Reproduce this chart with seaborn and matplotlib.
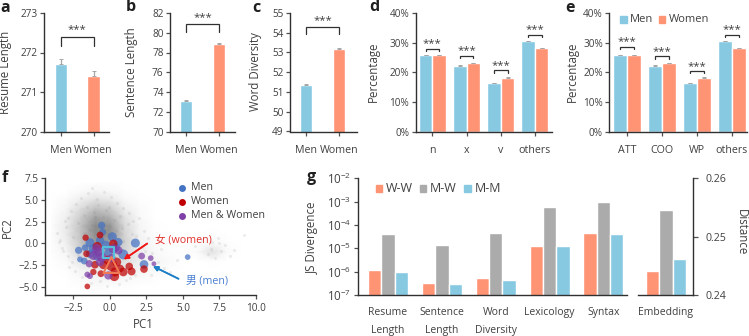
import numpy as np
import pandas as pd
import seaborn as sns
import matplotlib.pyplot as plt
from matplotlib.patches import Rectangle
from matplotlib.lines import Line2D

W, H = 749, 336
BLUE = '#88c9e2'
ORANGE = '#ff9474'
GRAY = '#ababab'
TXT = '#404040'

groups_ab = ['Men', 'Women']
resume_len = [271.7, 271.4]
resume_err = [0.13, 0.14]
sent_len = [73.05, 78.9]
sent_err = [0.1, 0.05]
word_div = [51.37, 53.2]
word_err = [0.06, 0.03]

pos_tags = ['n', 'x', 'v', 'others']
pos_men = [25.8, 22.2, 16.3, 30.4]
pos_women = [25.8, 23.0, 18.2, 28.1]
dep_tags = ['ATT', 'COO', 'WP', 'others']
dep_men = [25.8, 22.2, 16.3, 30.4]
dep_women = [25.8, 23.0, 18.2, 28.1]
pct_err = [0.1, 0.1, 0.1, 0.1]

js_feats = ['Resume\nLength', 'Sentence\nLength', 'Word\nDiversity', 'Lexicology', 'Syntax']
js_ww = [1.18e-6, 3.2e-7, 5.2e-7, 1.2e-5, 4.7e-5]
js_mw = [4.0e-5, 1.35e-5, 4.4e-5, 6.1e-4, 9.4e-4]
js_mm = [1.0e-6, 3.1e-7, 4.4e-7, 1.2e-5, 4.0e-5]
emb_vals = [0.2441, 0.2546, 0.2462]
pair_names = ['W-W', 'M-W', 'M-M']

# background cloud, darkness on a 1x1 grid
cloud_x = [-4, -3, -2, -1, 0, 1, 2, 3, 4, 5, 6, 7, 8, 9, 10]
cloud_y = [7, 6, 5, 4, 3, 2, 1, 0, -1, -2, -3, -4, -5, -6]
cloud = [
    [0, 0, 0, .01, .01, 0, 0, 0, 0, 0, 0, 0, 0, 0, 0],
    [0, 0, .02, .04, .03, .01, 0, 0, 0, 0, 0, 0, 0, 0, 0],
    [0, .02, .07, .12, .09, .03, .01, 0, 0, 0, 0, 0, 0, 0, 0],
    [0, .04, .14, .24, .20, .07, .02, 0, 0, 0, 0, 0, 0, 0, 0],
    [.01, .06, .20, .36, .31, .12, .03, 0, 0, 0, 0, 0, 0, 0, 0],
    [.01, .08, .24, .45, .42, .15, .04, .01, 0, 0, 0, 0, 0, 0, 0],
    [.01, .08, .24, .45, .44, .17, .05, .01, 0, 0, 0, .01, 0, 0, 0],
    [.01, .06, .22, .38, .35, .19, .06, .02, .01, 0, .01, .03, .01, 0, 0],
    [.01, .04, .17, .28, .27, .16, .07, .03, .01, .01, .02, .12, .02, 0, 0],
    [0, .02, .10, .17, .17, .13, .07, .04, .02, 0, 0, .01, 0, 0, 0],
    [0, .01, .05, .08, .10, .08, .05, .03, .01, 0, 0, 0, 0, 0, 0],
    [0, 0, .02, .04, .05, .03, .02, .01, 0, 0, 0, 0, 0, 0, 0],
    [0, 0, .01, .02, .01, .01, 0, 0, 0, 0, 0, 0, 0, 0, 0],
    [0, 0, 0, 0, 0, 0, 0, 0, 0, 0, 0, 0, 0, 0, 0],
]
# the single faint dots that can be made out around and inside the cloud
stray_x = [-3.6, -3.3, -3.1, -2.9, -2.7, -3.4, -3.0, -2.6, -2.3, -2.0, -1.8, -1.5, -1.2, -0.9, -0.4, 0.1, 0.5, 0.9,
           1.3, 1.6, 2.0, 2.3, 2.6, 1.8, 1.1, 0.6, -0.2, -0.7, -1.3, -1.9, -2.4, -2.8, -3.2, -3.5, -2.2, -1.6, -1.0,
           -0.3, 0.3, 0.8, 1.5, 2.2, 2.9, 3.3, 3.7, 4.1, 3.5, 2.8, 4.6, 5.8, 6.3, 6.7, 7.0, 7.2, 7.4, 7.6, 7.9, 8.2,
           6.9, 7.5, 8.5, 9.2, -1.2, -0.5, 0.2, -1.8, -0.8, 0.7, 1.2, -2.5, -1.4, 0.0, 1.9, 2.4, -0.1, -2.9, -0.6,
           0.9, -1.1, 0.4, -1.7, -2.2, 1.4, 1.7, 2.1]
stray_y = [1.2, -0.5, 2.6, -1.4, 3.7, 0.4, 1.9, -2.1, 4.6, 5.2, 3.3, 5.8, 6.4, 5.1, 5.9, 5.3, 4.7, 4.1, 3.5, 2.6, 2.9,
           1.4, 0.6, 0.9, -4.2, -4.7, -4.9, -4.4, -4.6, -3.9, -3.2, -2.7, -0.9, 0.2, 2.3, 4.2, 3.0, 3.9, 2.7, 1.8, 1.1,
           -0.4, -1.1, -2.2, -2.9, -3.3, -0.7, -3.6, -1.9, -0.3, 0.4, -1.2, 0.2, -1.7, 0.6, -0.9, -0.2, -1.5, -0.6, 0.1,
           -0.8, 1.0, 2.1, 3.1, 0.9, 1.2, 4.4, 3.2, 2.2, 0.7, 1.5, 2.0, -1.5, -0.9, 4.2, 2.9, 1.1, 0.3, 3.6, 1.4, -0.3,
           -1.3, -4.0, -3.7, -2.4]

men_x = [-0.57, -0.5, 0.16, 1.74, -2.15, -1.7, -1.37, -1.14, -2.05, -1.76, 0.91, 0.57, 2.33, 5.32, -0.11, -1.37, -0.68, 0.4, -0.9, -0.3]
men_y = [2.08, 1.3, 0.77, 0.04, -0.8, -0.5, 0.08, -0.6, -1.85, -2.04, -1.27, 0.15, -2.43, -1.58, -1.08, -1.2, 0.35, -0.5, -1.5, -0.2]
men_n = [45, 40, 70, 70, 45, 40, 70, 70, 30, 40, 85, 60, 65, 28, 60, 60, 60, 60, 60, 70]
women_x = [-1.67, -0.68, -1.6, -0.87, -1.03, -1.14, -0.62, 0.3, 0.91, 1.48, 1.32, 2.33, -1.55, 0.11, 0.34, 0.46, -0.45, 0.23, -0.2, 0.7]
women_y = [0.66, 0.96, -1.2, -0.35, -2.47, -3.3, -3.5, -3.8, -3.3, -3.24, -2.66, -2.97, -4.97, -2.54, -3.3, -2.16, -2.5, -0.04, -1.9, -2.9]
women_n = [35, 40, 40, 70, 50, 35, 40, 80, 65, 55, 50, 50, 28, 110, 70, 70, 60, 60, 60, 50]
both_x = [-0.91, -0.57, -1.42, -1.37, -1.55, -0.11, 2.17, 2.79, 3.01, 0.23, -0.68, 0.57, -1.14, -0.8, 0.1]
both_y = [-0.62, -1.6, -2.35, -3.78, -3.6, -3.7, -1.46, -1.7, -2.35, -0.62, -2.16, -0.8, -1.4, -1.0, -1.7]
both_n = [80, 80, 45, 30, 30, 60, 40, 28, 20, 70, 60, 60, 70, 70, 60]


def px_ax(x0, y0, x1, y1):
    return fig.add_axes([x0 / W, 1 - y1 / H, (x1 - x0) / W, (y1 - y0) / H])


def fx(x):
    return x / W


def fy(y):
    return 1 - y / H


def style_ax(ax, lw=1.0, tick=2.6):
    sns.despine(ax=ax)
    for s in ax.spines.values():
        s.set_linewidth(lw)
        s.set_color('#303030')
    ax.tick_params(length=tick, width=0.9, color='#505050', labelcolor=TXT, labelsize=FS, pad=2)
    ax.tick_params(axis='y', labelsize=FS_Y)
    ax.set_xlabel('')
    ax.set_ylabel('')


def bracket(ax, x0, x1, top, side, star):
    ax.plot([x0, x0, x1, x1], [side, top, top, side], color='#303030', lw=0.9, clip_on=False, solid_joinstyle='miter')
    ax.annotate('***', ((x0 + x1) / 2, star), ha='center', va='center', fontsize=FS + 0.5, color=TXT, annotation_clip=False)


def errs(ax, errors):
    # error caps go on top of the bars that seaborn drew
    for c, vals in zip(ax.containers, errors):
        for b, e in zip(c, vals):
            cx = b.get_x() + b.get_width() / 2
            ax.errorbar(cx, b.get_height(), yerr=[[0], [e]], color='#a6a6a6', lw=0.9, capsize=1.5, capthick=0.7, zorder=3)


def two_bars(box, vals, err, ylim, ticks, xlim, lab, lab_x, br):
    ax = px_ax(*box)
    sns.barplot(x=groups_ab, y=vals, hue=groups_ab, palette=[BLUE, ORANGE], saturation=1, width=0.38, legend=False, ax=ax)
    ax.set_ylim(*ylim)
    ax.set_xlim(*xlim)
    ax.set_yticks(ticks)
    style_ax(ax)
    ax.tick_params(axis='x', pad=7)
    errs(ax, [[e] for e in err])
    fig.text(fx(lab_x), fy(72), lab, rotation=90, ha='center', va='center', fontsize=FS_L, color=TXT)
    bracket(ax, 0, 1, *br)
    return ax


def group_bars(box, cats, men, women, xlim, lab_x, br):
    ax = px_ax(*box)
    df = pd.DataFrame({'cat': cats * 2, 'v': men + women, 'who': ['Men'] * 4 + ['Women'] * 4})
    sns.barplot(data=df, x='cat', y='v', hue='who', palette=[BLUE, ORANGE], saturation=1, width=0.79, gap=0, legend=False, ax=ax)
    ax.set_ylim(0, 40)
    ax.set_xlim(*xlim)
    ax.set_yticks([0, 10, 20, 30, 40], ['0%', '10%', '20%', '30%', '40%'])
    style_ax(ax)
    ax.tick_params(axis='x', pad=7)
    errs(ax, [pct_err, pct_err])
    fig.text(fx(lab_x), fy(72), 'Percentage', rotation=90, ha='center', va='center', fontsize=FS_L, color=TXT)
    for i, t in enumerate(br):
        bracket(ax, i - 0.2, i + 0.2, t, t - 0.8, t + 1.6)
    return ax


def swatch(x, y, color, label, size=6.5, fs=8.0):
    fig.patches.append(Rectangle((fx(x), fy(y + size / 2)), size / W, size / H, transform=fig.transFigure, color=color))
    fig.text(fx(x + size + 3.5), fy(y), label, ha='left', va='center', fontsize=fs, color=TXT)


FS = 7.7
FS_Y = 7.2
FS_L = 8.3
sns.set_style('ticks')
plt.rcParams['font.family'] = ['Open Sans', 'Noto Sans CJK SC', 'DejaVu Sans']
plt.rcParams['axes.unicode_minus'] = True
plt.rcParams['mathtext.default'] = 'regular'
fig = plt.figure(figsize=(W / 100, H / 100), dpi=100)

two_bars((44, 13, 109, 131.5), resume_len, resume_err, (270, 273), [270, 271, 272, 273], (-0.52, 1.47),
         'Resume Length', 6, (272.38, 272.17, 272.58))
two_bars((170, 13, 235, 131.5), sent_len, sent_err, (70, 82), range(70, 83, 2), (-0.485, 1.48),
         'Sentence Length', 132, (80.9, 80.05, 81.55))
two_bars((290, 13, 357, 131.5), word_div, word_err, (49, 55), range(49, 56), (-0.49, 1.55),
         'Word Diversity', 256, (54.27, 53.92, 54.6))

group_bars((415.7, 13, 551.7, 131.5), pos_tags, pos_men, pos_women, (-0.487, 3.49), 373,
           [28.0, 25.65, 20.7, 32.7])
group_bars((609.3, 13, 746.7, 131.5), dep_tags, dep_men, dep_women, (-0.505, 3.42), 572,
           [28.6, 25.4, 20.4, 32.7])
swatch(620, 19.3, BLUE, 'Men')
swatch(658.5, 19.3, ORANGE, 'Women')

# panel f
axf = px_ax(45, 178, 256, 295)
axf.pcolormesh(cloud_x, cloud_y, np.array(cloud), cmap='gray_r', vmin=0, vmax=1, shading='gouraud', rasterized=True)
sns.scatterplot(x=stray_x, y=stray_y, color='#808080', s=5, alpha=0.13, linewidth=0, legend=False, ax=axf, zorder=2)
for xs, ys, ns, col in [(men_x, men_y, men_n, '#4472c4'), (women_x, women_y, women_n, '#c00000'), (both_x, both_y, both_n, '#7e3fa8')]:
    sns.scatterplot(x=xs, y=ys, size=ns, sizes=(min(ns) * 0.6, max(ns) * 0.6), color=col, alpha=0.72, linewidth=0, legend=False, ax=axf, zorder=3)
axf.scatter([-0.1], [-1.05], marker='s', s=70, facecolor='none', edgecolor='#55c0dc', linewidth=1.5, zorder=5)
axf.scatter([0.1], [-2.5], marker='^', s=130, facecolor='none', edgecolor='#f07a55', linewidth=1.5, zorder=5)
axf.set_xlim(-4.45, 10)
axf.set_ylim(-5.96, 7.55)
axf.set_xticks([-2.5, 0, 2.5, 5, 7.5, 10])
axf.set_xticklabels(['\u22122.5', '0.0', '2.5', '5.0', '7.5', '10.0'])
axf.set_yticks([-5, -2.5, 0, 2.5, 5, 7.5])
axf.set_yticklabels(['\u22125.0', '\u22122.5', '0.0', '2.5', '5.0', '7.5'])
style_ax(axf)
axf.tick_params(axis='x', labelsize=FS_Y, pad=3)
fig.text(fx(143), fy(325), 'PC1', ha='center', va='center', fontsize=FS_L, color=TXT)
fig.text(fx(7), fy(228), 'PC2', rotation=90, ha='center', va='center', fontsize=FS_L, color=TXT)
for yy, col, lab in [(188, '#4472c4', 'Men'), (201.7, '#c00000', 'Women'), (215.7, '#7e3fa8', 'Men & Women')]:
    fig.add_artist(Line2D([fx(182)], [fy(yy)], marker='o', ms=5, color=col, mew=0, ls=''))
    fig.text(fx(190.7), fy(yy), lab, ha='left', va='center', fontsize=FS, color=TXT)
fig.text(fx(155), fy(241), '\u5973 (women)', ha='left', va='center', fontsize=FS, color='#e0302a')
fig.text(fx(186.5), fy(281), '\u7537 (men)', ha='left', va='center', fontsize=FS, color='#4a7fd0')
fig.add_artist(plt.annotate('', xy=(fx(121.5), fy(261)), xytext=(fx(149.5), fy(242)), xycoords='figure fraction',
                            arrowprops=dict(arrowstyle='-|>', color='#f01818', lw=1.2, mutation_scale=7)))
fig.add_artist(plt.annotate('', xy=(fx(150.5), fy(265)), xytext=(fx(181), fy(280)), xycoords='figure fraction',
                            arrowprops=dict(arrowstyle='-|>', color='#1f80c8', lw=1.2, mutation_scale=7)))

# panel g
pal = [ORANGE, GRAY, BLUE]
axg = px_ax(357.7, 178.3, 626.7, 295)
df_js = pd.DataFrame({'feat': js_feats * 3, 'v': js_ww + js_mw + js_mm, 'pair': np.repeat(pair_names, 5)})
sns.barplot(data=df_js, x='feat', y='v', hue='pair', palette=pal, saturation=1, width=0.743, gap=0, legend=False, ax=axg)
axg.set_yscale('log')
axg.set_ylim(1e-7, 1e-2)
axg.set_xlim(-0.563, 4.433)
axg.set_yticks([1e-7, 1e-6, 1e-5, 1e-4, 1e-3, 1e-2])
axg.minorticks_off()
style_ax(axg)
axg.tick_params(axis='y', labelsize=FS + 0.6)
axg.tick_params(axis='x', length=0, pad=8.5, labelsize=7.5)
for t in axg.get_xticklabels():
    t.set_linespacing(1.85)
fig.text(fx(312.7), fy(238), 'JS Divergence', rotation=90, ha='center', va='center', fontsize=FS_L, color=TXT)

axe = px_ax(638.3, 178.3, 693.3, 295)
df_em = pd.DataFrame({'feat': ['Embedding'] * 3, 'v': emb_vals, 'pair': pair_names})
sns.barplot(data=df_em, x='feat', y='v', hue='pair', palette=pal, saturation=1, width=0.743, gap=0, legend=False, ax=axe)
axe.set_ylim(0.24, 0.26)
axe.set_xlim(-0.514, 0.508)
axe.set_yticks([0.24, 0.25, 0.26], ['0.24', '0.25', '0.26'])
style_ax(axe)
axe.spines['left'].set_visible(False)
axe.spines['right'].set_visible(True)
axe.yaxis.tick_right()
axe.tick_params(axis='y', length=3.5, pad=5, labelsize=FS)
axe.tick_params(axis='x', length=0, pad=8.5, labelsize=7.5)
fig.text(fx(741), fy(232), 'Distance', rotation=270, ha='center', va='center', fontsize=FS_L, color=TXT)
swatch(375.7, 188.5, ORANGE, 'W-W', fs=9)
swatch(420, 188.5, GRAY, 'M-W', fs=9)
swatch(464.3, 188.5, BLUE, 'M-M', fs=9)

for lab, x, y in [('a', 5, 8), ('b', 131, 7), ('c', 256, 8), ('d', 374, 7), ('e', 570, 8), ('f', 5, 178), ('g', 311, 177)]:
    fig.text(fx(x), fy(y), lab, ha='center', va='center', fontsize=11.5, fontweight='bold', color='#202020')

fig.savefig('out.png', dpi=100)
